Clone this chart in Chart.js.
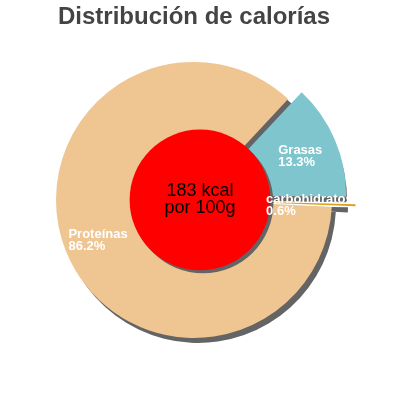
<!DOCTYPE html>
<html lang="es">
<head>
    <meta charset="UTF-8">
    <title>Distribución de calorías</title>
    <script src="https://cdn.jsdelivr.net/npm/chart.js"></script>
    <style>
        html, body { margin: 0; padding: 0; background: #fff; }
        #chart { display: block; }
    </style>
</head>
<body>
    <canvas id="chart" width="400" height="400"></canvas>

    <script>
        // Data
        const categories = ['Grasas', 'carbohidratos', 'Proteínas'];
        const percentages = [13.3, 0.6, 86.2];
        const centerLines = ['183 kcal', 'por 100g'];
        const chartTitle = 'Distribución de calorías';

        const FONT = '"Liberation Sans", Arial, sans-serif';
        const SHADOW_DX = 4, SHADOW_DY = 5;

        // Chart.js v4 moves an arc by options.offset / 4
        function arcGeometry(arc) {
            const p = arc.getProps(['x', 'y', 'startAngle', 'endAngle', 'outerRadius']);
            const off = (arc.options.offset || 0) / 4;
            const mid = (p.startAngle + p.endAngle) / 2;
            return {
                cx: p.x + Math.cos(mid) * off,
                cy: p.y + Math.sin(mid) * off,
                mid: mid,
                start: p.startAngle,
                end: p.endAngle,
                r: p.outerRadius
            };
        }

        // flat grey drop shadow under all slices, drawn before the slices
        const shadowPlugin = {
            id: 'sliceShadow',
            beforeDatasetsDraw(chart) {
                const ctx = chart.ctx;
                ctx.save();
                ctx.fillStyle = '#646464';
                chart.getDatasetMeta(0).data.forEach(arc => {
                    const g = arcGeometry(arc);
                    const x = g.cx + SHADOW_DX, y = g.cy + SHADOW_DY;
                    ctx.beginPath();
                    ctx.moveTo(x, y);
                    ctx.arc(x, y, g.r, g.start, g.end);
                    ctx.closePath();
                    ctx.fill();
                });
                ctx.restore();
            }
        };

        // red disc with energy text, then slice labels on top
        const overlayPlugin = {
            id: 'overlay',
            afterDatasetsDraw(chart) {
                const ctx = chart.ctx;
                const meta = chart.getDatasetMeta(0);
                const first = meta.data[0].getProps(['y', 'outerRadius']);
                const cx = chart.width / 2;
                const cy = first.y;
                const rr = first.outerRadius * 0.51;

                ctx.save();
                ctx.shadowColor = '#646464';
                ctx.shadowOffsetX = 3;
                ctx.shadowOffsetY = 3;
                ctx.shadowBlur = 0;
                ctx.fillStyle = '#ff0000';
                ctx.beginPath();
                ctx.arc(cx, cy, rr, 0, Math.PI * 2);
                ctx.fill();
                ctx.restore();

                ctx.save();
                ctx.fillStyle = '#000';
                ctx.font = '18px ' + FONT;
                ctx.textAlign = 'center';
                ctx.textBaseline = 'alphabetic';
                ctx.fillText(centerLines[0], cx, cy - 4);
                ctx.fillText(centerLines[1], cx, cy + 13);
                ctx.restore();

                ctx.save();
                ctx.fillStyle = '#fff';
                ctx.font = 'bold 13px ' + FONT;
                ctx.textAlign = 'left';
                ctx.textBaseline = 'alphabetic';
                meta.data.forEach((arc, i) => {
                    const g = arcGeometry(arc);
                    const px = g.cx + Math.cos(g.mid) * g.r * 0.75;
                    const py = g.cy + Math.sin(g.mid) * g.r * 0.75;
                    const l1 = categories[i];
                    const l2 = percentages[i].toFixed(1) + '%';
                    const w = Math.max(ctx.measureText(l1).width, ctx.measureText(l2).width);
                    const left = px - w / 2;
                    ctx.fillText(l1, left, py - 1);
                    ctx.fillText(l2, left, py + 11);
                });
                ctx.restore();
            }
        };

        new Chart(document.getElementById('chart'), {
            type: 'pie',
            data: {
                labels: categories,
                datasets: [{
                    data: percentages,
                    backgroundColor: ['#7ec5cd', '#d9a322', '#efc592'],
                    borderWidth: 0,
                    offset: [48, 48, 0]
                }]
            },
            options: {
                responsive: false,
                animation: false,
                rotation: 43,
                radius: 138,
                layout: {
                    padding: { left: 0, right: 12, top: 0, bottom: 40 }
                },
                plugins: {
                    legend: { display: false },
                    tooltip: { enabled: false },
                    title: {
                        display: true,
                        text: chartTitle,
                        color: '#444444',
                        font: { family: FONT, size: 24, weight: 'bold' },
                        padding: { top: 3, bottom: 8 }
                    }
                }
            },
            plugins: [shadowPlugin, overlayPlugin]
        });
    </script>
</body>
</html>
